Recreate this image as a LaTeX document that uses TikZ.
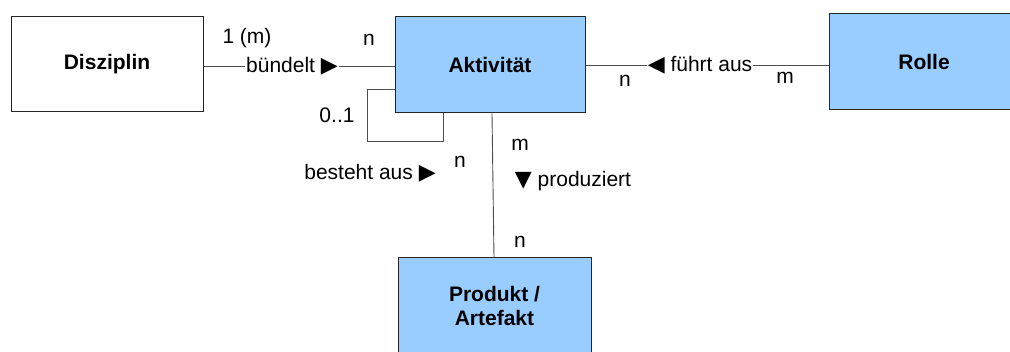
\documentclass[tikz,border=0pt]{standalone}
\usepackage{fontspec}
\setmainfont{Liberation Sans}
\newfontfamily\symfont{DejaVu Sans}
\definecolor{entityblue}{HTML}{99CCFF}
\newcommand{\basefont}{\fontsize{21}{25}\selectfont}
\tikzset{
  entity/.style={draw=black!85, line width=1pt, minimum width=191pt, minimum height=96pt,
    inner sep=0pt, font=\basefont\bfseries, align=center},
  relline/.style={draw=black!70, line width=0.9pt},
  lbl/.style={inner sep=1pt},
}
\newcommand{\rtri}{{\symfont\fontsize{22}{24}\selectfont ▶}}
\newcommand{\ltri}{{\symfont\fontsize{22}{24}\selectfont ◀}}
\newcommand{\dtri}{{\symfont\fontsize{22}{24}\selectfont ▼}}
\begin{document}
\begin{tikzpicture}[x=1pt, y=-1pt, font=\basefont]
  \useasboundingbox (0,0) rectangle (1010,352);
  \begin{scope}
    \clip (0,0) rectangle (1010,352);
    % entities
    \node[entity, minimum width=192pt, minimum height=95pt] (disz) at (107,64.5) {Disziplin};
    \node[entity, fill=entityblue, minimum width=190pt] (akt) at (490,65) {Aktivität};
    \node[entity, fill=entityblue, minimum width=190pt] (rolle) at (924,62) {Rolle};
    \node[entity, fill=entityblue, minimum width=193pt] (prod) at (494.5,306) {Produkt /\\[-1pt]Artefakt};

    % Disziplin -- Aktivitaet
    \node[lbl] (bund) at (292,66) {bündelt \rtri};
    \draw[relline] (disz.east |- bund) -- (bund.west);
    \draw[relline] (bund.east) -- (bund -| akt.west);
    \node[lbl] (c1) at (247,38) {1 (m)};
    \node[lbl] (c2) at (369,40) {n};

    % Aktivitaet -- Rolle
    \node[lbl] (fuehrt) at (700,65) {\ltri\ führt aus};
    \draw[relline] (fuehrt -| akt.east) -- (fuehrt.west);
    \draw[relline] (fuehrt.east) -- (fuehrt -| rolle.west);
    \node[lbl] (c3) at (625,81) {n};
    \node[lbl] (c4) at (785,78) {m};

    % recursive relation on Aktivitaet
    \coordinate (l0) at (akt.west |- 0,89);
    \coordinate (l1) at (367,89);
    \coordinate (l2) at (367,141);
    \coordinate (l3) at (443,141);
    \coordinate (l4) at (akt.south -| 443,0);
    \draw[relline] (l0) -- (l1) -- (l2) -- (l3) -- (l4);
    \node[lbl] (c5) at (337,115) {0..1};
    \node[lbl] (best) at (370,173) {besteht aus \rtri};
    \node[lbl] (c6) at (460,162) {n};

    % Aktivitaet -- Produkt
    \coordinate (v0) at (akt.south -| 492,0);
    \coordinate (v1) at (prod.north -| 494,0);
    \draw[relline] (v0) -- (v1);
    \node[lbl] (c7) at (520,145) {m};
    \node[lbl] (prodz) at (573,181) {\dtri\ produziert};
    \node[lbl] (c8) at (520,242) {n};
  \end{scope}
\end{tikzpicture}
\end{document}
